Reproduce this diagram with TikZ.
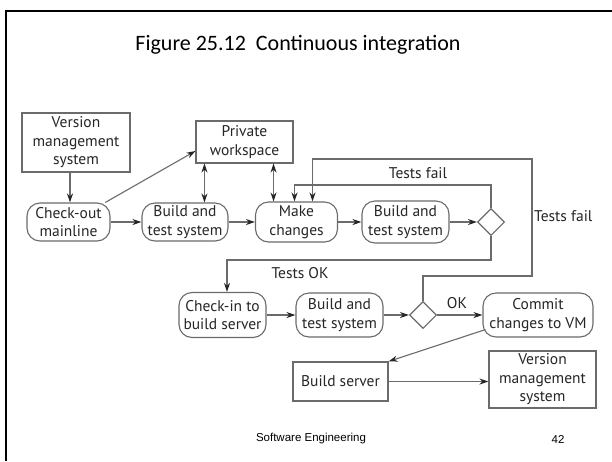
\documentclass[tikz,border=0pt]{standalone}
\usepackage{fontspec}
\setmainfont{PT Sans}
\newfontfamily\titlefont{Carlito}
\newfontfamily\footfont{Liberation Sans}
\usetikzlibrary{shapes.geometric,arrows.meta,calc}

\definecolor{edge}{gray}{0.42}
\definecolor{ink}{gray}{0.15}

\begin{document}
\begin{tikzpicture}[x=1pt,y=-1pt,
  dfont/.style={font=\fontsize{15.5}{18.5}\selectfont},
  box/.style={draw=edge,line width=1.1pt,align=center,inner sep=1pt,dfont,text=ink},
  rbox/.style={box,rounded corners=13pt},
  dec/.style={draw=edge,line width=1.1pt,diamond,minimum size=27pt,inner sep=0pt},
  flow/.style={draw=edge,line width=1.1pt,-{Stealth[length=9pt,width=6pt,color=black!85]}},
  both/.style={draw=edge,line width=1.1pt,{Stealth[length=9pt,width=6pt,color=black!85]}-{Stealth[length=9pt,width=6pt,color=black!85]}},
  lab/.style={dfont,text=ink,inner sep=1pt}
]
\useasboundingbox (0,0) rectangle (612,461);
\fill[white] (0,0) rectangle (612,461);

% slide frame
\draw[line width=2pt] (6,461) -- (6,11) -- (612,11);

% title and footer
\node[font=\titlefont\fontsize{22}{26}\selectfont] (title) at (298,45) {Figure 25.12\ \ Continuous integration};
\node[font=\footfont\fontsize{11.5}{13}\selectfont] (foot) at (311,439) {Software Engineering};
\node[font=\footfont\fontsize{11.5}{13}\selectfont] (page) at (558,439) {42};

% first row: local work cycle
\node[box,minimum width=108pt,minimum height=59pt] (vms1) at (76,142.5) {Version\\management\\system};
\node[box,minimum width=97pt,minimum height=42pt] (pw) at (244.5,142) {Private\\workspace};
\node[rbox,minimum width=83pt,minimum height=38pt] (chk) at (68.5,222) {Check-out\\mainline};
\node[rbox,minimum width=86pt,minimum height=38pt] (b1) at (185,222) {Build and\\test system};
\node[rbox,minimum width=82pt,minimum height=40pt] (mk) at (296.5,222) {Make\\changes};
\node[rbox,minimum width=87pt,minimum height=42pt] (b2) at (405.5,222) {Build and\\test system};
\node[dec] (d1) at (491,222) {};

% second row: integration on the build server
\node[rbox,minimum width=87pt,minimum height=45pt] (ci) at (222.5,315) {Check-in to\\build server};
\node[rbox,minimum width=87pt,minimum height=44pt] (b3) at (339.5,315) {Build and\\test system};
\node[dec] (d2) at (423,315) {};
\node[rbox,minimum width=110pt,minimum height=44pt] (cm) at (538,315) {Commit\\changes to VM};

% third row
\node[box,minimum width=95pt,minimum height=39pt] (bs) at (340.5,381.5) {Build server};
\node[box,minimum width=107pt,minimum height=57pt] (vms2) at (542.5,379.5) {Version\\management\\system};

% loop corners
\coordinate (r1) at (532,276);
\coordinate (r2) at (532,159);

% connectors
\draw[flow] ([xshift=1.5pt]chk.north |- vms1.south) -- ([xshift=1.5pt]chk.north);
\draw[flow] (chk.28) -- ([yshift=-9pt]pw.west);
\draw[flow] (chk.east) -- (b1.west);
\draw[flow] (b1.east) -- (mk.west);
\draw[flow] (mk.east) -- (b2.west);
\draw[flow] (b2.east) -- (d1.west);
\draw[both] ([xshift=9pt]pw.south west) -- ([xshift=9pt]pw.south west |- b1.north);
\draw[both] ([xshift=-20pt]pw.south east) -- ([xshift=-20pt]pw.south east |- mk.north);

\draw[flow] (d1.north) -- (d1.north |- 0,185) -| ([xshift=-2pt]mk.north);
\draw[flow] (d1.south) -- (d1.south |- 0,260) -| ([xshift=4.5pt]ci.north);

\draw[flow] (ci.east) -- (b3.west);
\draw[flow] (b3.east) -- (d2.west);
\draw[flow] (d2.east) -- (cm.west);
\draw[flow] (d2.north) -- (d2.north |- r1) -- (r1) -- (r2) -| ([xshift=16pt]mk.north);

\draw[flow] ([shift={(3pt,8pt)}]cm.south west) -- (bs.north east);
\draw[flow] (bs.east) -- (bs.east -| vms2.west);

% labels
\node[lab] (tf1) at (418,173) {Tests fail};
\node[lab,anchor=west] (tf2) at (533,216) {Tests fail};
\node[lab] (tok) at (300,273) {Tests OK};
\node[lab] (ok) at (457,303) {OK};
\end{tikzpicture}
\end{document}
